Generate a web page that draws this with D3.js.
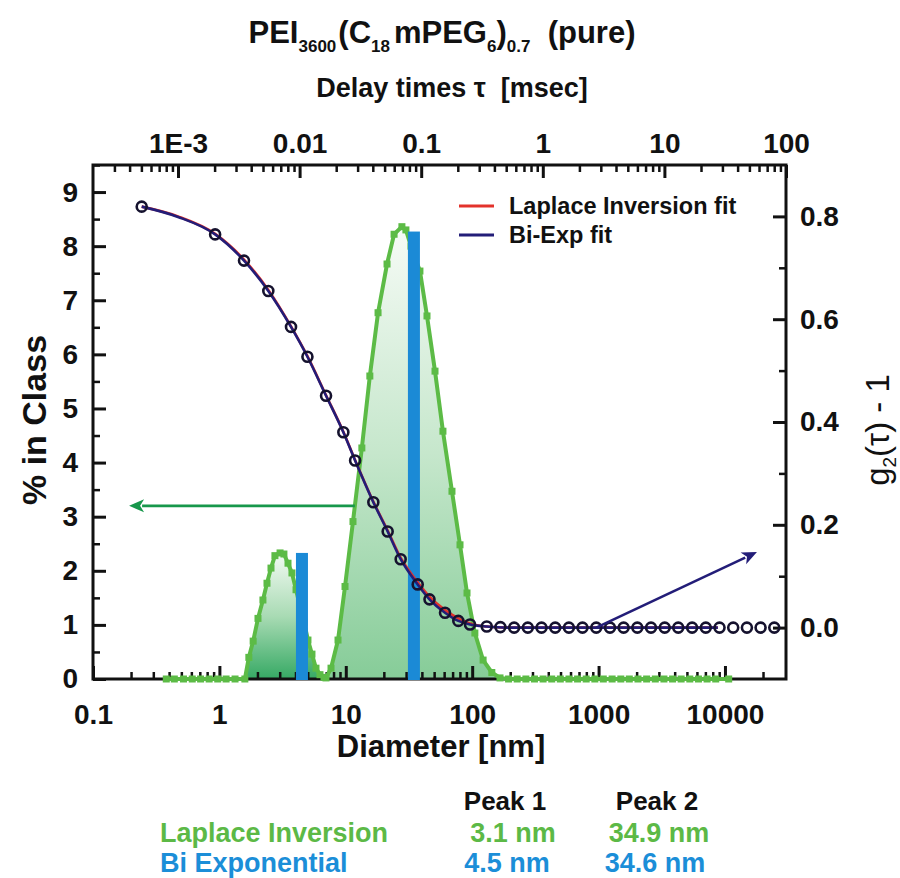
<!DOCTYPE html>
<html><head><meta charset="utf-8">
<script src="https://cdn.jsdelivr.net/npm/d3@7"></script>
<style>
html,body{margin:0;padding:0;background:#fff;}
svg{display:block;}
text{font-family:"Liberation Sans", Arial, Helvetica, sans-serif;}
</style></head><body>
<svg id="chart" width="900" height="878"></svg>
<script>
// ---------------- DATA ----------------
// Laplace inversion size distribution (diameter in nm, % in class)
const diameterNm = [0.38,0.44,0.52,0.61,0.71,0.83,0.97,1.13,1.33,1.59,
  1.71,1.85,2.02,2.21,2.38,2.56,2.75,3.02,3.24,3.49,3.75,4.04,4.34,4.67,5.02,5.40,5.81,6.25,6.72,6.97,
  7.64,8.68,9.86,11.4,13.4,15.5,18.0,21.2,24.1,27.8,29.9,32.8,38.6,43.9,50.8,58.7,69.2,80.1,91.0,105,122,143,166,
  194,227,266,311,364,426,498,583,682,798,934,1090,1280,1500,1750,2050,2400,2810,3290,3850,4500,5270,6170,7220,8450,10700];
const percentInClass = [0,0,0,0,0,0,0,0,0,0,
  0.4,0.7,1.12,1.46,1.77,2.05,2.28,2.33,2.31,2.14,1.96,1.65,1.35,1.05,0.72,0.46,0.2,0.08,0.03,0.02,
  0.2,0.72,1.71,2.91,4.27,5.60,6.77,7.67,8.22,8.36,8.3,8.0,7.54,6.71,5.69,4.58,3.47,2.48,1.59,0.85,0.35,0.12,0.02,
  0,0,0,0,0,0,0,0,0,0,0,0,0,0,0,0,0,0,0,0,0,0,0,0,0,0];
const peakSplitNm = 6.97;

// Bi-exponential peaks
const biExpDiameterNm = [4.5, 34.6];
const biExpPercent = [2.33, 8.27];

// Correlation function data (delay time in ms, g2(tau)-1)
const delayMs = [5.03e-4,2.02e-3,3.49e-3,5.53e-3,8.5e-3,0.0116,0.0165,0.0229,0.0286,0.0404,0.053,0.0678,0.0936,0.117,0.157,0.202,0.252,
  0.346,0.448,0.581,0.753,0.976,1.265,1.64,2.12,2.75,3.57,4.62,5.99,7.76,10.06,13.0,16.9,21.9,28.4,36.8,47.7,61.8,80.1];
const g2minus1 = [0.819,0.765,0.714,0.655,0.585,0.527,0.451,0.380,0.325,0.244,0.187,0.133,0.084,0.055,0.029,0.013,0.006,
  0.002,0.001,0,0,0,0,0,0,0,0,0,0,0,0,0,0,0,0,0,0,0,0];

// Fits
const biExpFitDelayMs = [5.03e-4,1e-3,2.02e-3,3.49e-3,5.53e-3,8.5e-3,0.0116,0.0165,0.0229,0.0286,0.0404,0.053,0.0678,0.0936,0.117,0.157,0.202,0.252,0.346,0.5,1,3,10,27.5];
const biExpFitG2      = [0.819,0.799,0.765,0.714,0.655,0.585,0.527,0.451,0.380,0.325,0.244,0.187,0.133,0.084,0.055,0.029,0.013,0.006,0.002,0,0,0,0,0];
const laplaceFitDelayMs = [5.03e-4,1e-3,2.02e-3,3.49e-3,5.53e-3,8.5e-3,0.0116,0.0165,0.0229,0.0286,0.0404,0.053,0.0678,0.0936,0.117,0.157,0.202,0.252,0.346,0.5,1,3,10,27.5];
const laplaceFitG2      = [0.819,0.800,0.766,0.716,0.657,0.586,0.528,0.452,0.381,0.326,0.245,0.189,0.136,0.088,0.060,0.034,0.018,0.008,0.002,0,0,0,0,0];

// Annotation arrows (data coordinates)
const greenArrowNm = [11.8, 0.193];      const greenArrowPercent = [3.2, 3.2];
const navyArrowMs = [2.75, 57.7];        const navyArrowG2 = [0, 0.147];

// Axes
const bottomTicks = [0.1,1,10,100,1000,10000];
const bottomTickLabels = ["0.1","1","10","100","1000","10000"];
const topTicks = [0.001,0.01,0.1,1,10,100];
const topTickLabels = ["1E-3","0.01","0.1","1","10","100"];
const leftTicks = [0,1,2,3,4,5,6,7,8,9];
const leftTickLabels = ["0","1","2","3","4","5","6","7","8","9"];
const rightTicks = [0,0.2,0.4,0.6,0.8];
const rightTickLabels = ["0.0","0.2","0.4","0.6","0.8"];
const rightMinorTicks = [0.1,0.3,0.5,0.7];

// Legend & table
const legendLabels = ["Laplace Inversion fit","Bi-Exp fit"];
const legendColors = ["#e3322b","#231d78"];
const tableHeader = ["Peak 1","Peak 2"];
const tableRows = ["Laplace Inversion","Bi Exponential"];
const tablePeak1 = ["3.1 nm","4.5 nm"];
const tablePeak2 = ["34.9 nm","34.6 nm"];
const tableColors = ["#5cb946","#1b8ed8"];

// ---------------- DRAW ----------------
const svg = d3.select("#chart");
const P = {left:93,right:786,top:165,bottom:679};
const x = d3.scaleLog().domain([0.1, 30400]).range([P.left, P.right]);
const xTop = d3.scaleLog().domain([2.0e-4, 100]).range([P.left, P.right]);
const yL = d3.scaleLinear().domain([0, 9.5]).range([P.bottom, P.top]);
const yR = d3.scaleLinear().domain([-0.1, 0.9]).range([P.bottom, P.top]);

const GREEN = "#5cbb46", BLUE = "#1b8ad6", NAVY = "#231d78", RED = "#e3322b";

const defs = svg.append("defs");
function grad(id, stops){
  const g = defs.append("linearGradient").attr("id",id).attr("x1",0).attr("y1",0).attr("x2",0).attr("y2",1);
  stops.forEach(s=>g.append("stop").attr("offset",s[0]).attr("stop-color",s[1]));
}
grad("gp1", [[0,"#f3faf3"],[0.5,"#a9dbb4"],[1,"#36a964"]]);
grad("gp2", [[0,"#f6fbf6"],[0.5,"#c6e7cc"],[1,"#86cc98"]]);

const dist = diameterNm.map((d,i)=>({d, v:percentInClass[i]}));
const area = d3.area().x(p=>x(p.d)).y0(yL(0)).y1(p=>yL(p.v));
const peak1 = dist.filter(p=>p.d>=1.59 && p.d<=peakSplitNm);
const peak2 = dist.filter(p=>p.d>=peakSplitNm && p.d<=166);
svg.append("path").datum(peak1).attr("d",area).attr("fill","url(#gp1)");
svg.append("path").datum(peak2).attr("d",area).attr("fill","url(#gp2)");

// axes
function styleAxis(g, major){
  g.select(".domain").remove();
  g.selectAll(".tick line").attr("stroke","#111").attr("stroke-width", major?3:2.5);
  g.selectAll(".tick text").attr("fill","#111").attr("font-size",28).attr("font-weight","bold");
}
function minorLog(lo, hi){
  const out=[];
  for(let e=-5;e<=5;e++) for(let k=2;k<=9;k++){const v=k*Math.pow(10,e); if(v>lo*1.01 && v<hi*0.97) out.push(v);}
  return out;
}
// bottom
svg.append("g").attr("transform",`translate(0,${P.bottom})`)
  .call(d3.axisBottom(x).tickValues(bottomTicks).tickFormat((d,i)=>bottomTickLabels[i]).tickSize(-13).tickPadding(25))
  .call(g=>styleAxis(g,true));
svg.append("g").attr("transform",`translate(0,${P.bottom})`)
  .call(d3.axisBottom(x).tickValues(minorLog(0.1,30400)).tickFormat("").tickSize(-7))
  .call(g=>styleAxis(g,false));
// top
svg.append("g").attr("transform",`translate(0,${P.top})`)
  .call(d3.axisTop(xTop).tickValues(topTicks).tickFormat((d,i)=>topTickLabels[i]).tickSize(-13).tickPadding(12))
  .call(g=>styleAxis(g,true));
svg.append("g").attr("transform",`translate(0,${P.top})`)
  .call(d3.axisTop(xTop).tickValues(minorLog(2e-4,100)).tickFormat("").tickSize(-7))
  .call(g=>styleAxis(g,false));
// left
svg.append("g").attr("transform",`translate(${P.left},0)`)
  .call(d3.axisLeft(yL).tickValues(leftTicks).tickFormat((d,i)=>leftTickLabels[i]).tickSize(-13).tickPadding(15))
  .call(g=>styleAxis(g,true));
svg.append("g").attr("transform",`translate(${P.left},0)`)
  .call(d3.axisLeft(yL).tickValues(leftTicks.map(v=>v+0.5)).tickFormat("").tickSize(-7))
  .call(g=>styleAxis(g,false));
// right
svg.append("g").attr("transform",`translate(${P.right},0)`)
  .call(d3.axisRight(yR).tickValues(rightTicks).tickFormat((d,i)=>rightTickLabels[i]).tickSize(-13).tickPadding(14))
  .call(g=>styleAxis(g,true));
svg.append("g").attr("transform",`translate(${P.right},0)`)
  .call(d3.axisRight(yR).tickValues(rightMinorTicks).tickFormat("").tickSize(-7))
  .call(g=>styleAxis(g,false));

// frame
svg.append("rect").attr("x",P.left).attr("y",P.top).attr("width",P.right-P.left).attr("height",P.bottom-P.top)
  .attr("fill","none").attr("stroke","#111").attr("stroke-width",3);

// green distribution line + squares
const line = d3.line().x(p=>x(p.d)).y(p=>yL(p.v));
svg.append("path").datum(dist).attr("d",line).attr("fill","none").attr("stroke",GREEN).attr("stroke-width",4);
svg.append("g").selectAll("rect").data(dist).join("rect")
  .attr("x",p=>x(p.d)-3.5).attr("y",p=>yL(p.v)-3.5).attr("width",7).attr("height",7).attr("fill",GREEN);

// blue bi-exp bars
svg.append("g").selectAll("rect").data(biExpDiameterNm).join("rect")
  .attr("x",d=>x(d)-6).attr("y",(d,i)=>yL(biExpPercent[i])).attr("width",12)
  .attr("height",(d,i)=>yL(0)-yL(biExpPercent[i])+1).attr("fill",BLUE);

// fits
const fitLine = d3.line().curve(d3.curveMonotoneX).x(p=>xTop(p.t)).y(p=>yR(p.g));
svg.append("path").datum(laplaceFitDelayMs.map((t,i)=>({t,g:laplaceFitG2[i]}))).attr("d",fitLine)
  .attr("fill","none").attr("stroke",RED).attr("stroke-width",2.6);
svg.append("path").datum(biExpFitDelayMs.map((t,i)=>({t,g:biExpFitG2[i]}))).attr("d",fitLine)
  .attr("fill","none").attr("stroke",NAVY).attr("stroke-width",2.6);

// data circles
svg.append("g").selectAll("circle").data(delayMs).join("circle")
  .attr("cx",t=>xTop(t)).attr("cy",(t,i)=>yR(g2minus1[i])).attr("r",5)
  .attr("fill","none").attr("stroke","#15122e").attr("stroke-width",2.6);

// arrows
function arrow(x1,y1,x2,y2,color,w){
  const dx=x2-x1, dy=y2-y1, L=Math.hypot(dx,dy), ux=dx/L, uy=dy/L;
  const hl=15, hw=6.5;
  const bx=x2-ux*hl, by=y2-uy*hl;
  svg.append("line").attr("x1",x1).attr("y1",y1).attr("x2",bx+ux*2).attr("y2",by+uy*2)
    .attr("stroke",color).attr("stroke-width",w);
  svg.append("path").attr("d",`M${x2},${y2}L${bx-uy*hw},${by+ux*hw}L${bx+ux*4},${by+uy*4}L${bx+uy*hw},${by-ux*hw}Z`).attr("fill",color);
}
arrow(x(greenArrowNm[0]),yL(greenArrowPercent[0]),x(greenArrowNm[1]),yL(greenArrowPercent[1]),"#17974b",2.8);
arrow(xTop(navyArrowMs[0]),yR(navyArrowG2[0]),xTop(navyArrowMs[1]),yR(navyArrowG2[1]),NAVY,2.6);

// legend
legendLabels.forEach((lab,i)=>{
  const yy = 206 + i*29;
  svg.append("line").attr("x1",459).attr("x2",494).attr("y1",yy).attr("y2",yy).attr("stroke",legendColors[i]).attr("stroke-width",3);
  svg.append("text").attr("x",509).attr("y",yy+8).attr("font-size",23.5).attr("font-weight","bold").attr("fill","#111").text(lab);
});

// titles
const t = svg.append("text").attr("x",442).attr("y",43).attr("text-anchor","middle").attr("font-weight","bold").attr("font-size",31).attr("fill","#111");
const parts = [["PEI",0],["3600",1],["(C",0],["18",1],["mPEG",0],["6",1],[")",0],["0.7",1],["  (pure)",0]];
let sub=false;
parts.forEach(([s,isSub])=>{
  const ts = t.append("tspan").text(s).attr("xml:space","preserve");
  if(isSub && !sub){ts.attr("dy",9).attr("font-size",17); sub=true;}
  else if(isSub){ts.attr("font-size",17);}
  else if(!isSub && sub){ts.attr("dy",-9); sub=false;}
  if(s==="mPEG" || s==="(C") ts.attr("dx", s==="mPEG"?4:2);
});
t.style("white-space","pre");

svg.append("text").attr("x",452).attr("y",97).attr("text-anchor","middle").attr("font-weight","bold").attr("font-size",27)
  .attr("fill","#111").style("white-space","pre").text("Delay times \u03C4  [msec]");

svg.append("text").attr("x",441).attr("y",757).attr("text-anchor","middle").attr("font-weight","bold").attr("font-size",31)
  .attr("fill","#111").text("Diameter [nm]");

svg.append("text").attr("transform","translate(46,420) rotate(-90)").attr("text-anchor","middle").attr("font-weight","bold")
  .attr("font-size",34).attr("fill","#111").text("% in Class");

const gr = svg.append("text").attr("transform","translate(889,430) rotate(-90)").attr("text-anchor","middle")
  .attr("font-size",33).attr("fill","#111").style("white-space","pre");
gr.append("tspan").text("g");
gr.append("tspan").text("2").attr("font-size",19).attr("dy",7);
gr.append("tspan").text("(\u03C4) - 1").attr("dy",-7);

// table
const tblFont = 27;
tableHeader.forEach((h,i)=>{
  svg.append("text").attr("x",[505,657][i]).attr("y",810).attr("text-anchor","middle").attr("font-weight","bold")
    .attr("font-size",26).attr("fill","#111").text(h);
});
tableRows.forEach((r,i)=>{
  const yy = 842 + i*30;
  svg.append("text").attr("x",160).attr("y",yy).attr("font-weight","bold").attr("font-size",tblFont).attr("fill",tableColors[i]).text(r);
  svg.append("text").attr("x",[513,507][i]).attr("y",yy).attr("text-anchor","middle").attr("font-weight","bold").attr("font-size",tblFont).attr("fill",tableColors[i]).text(tablePeak1[i]);
  svg.append("text").attr("x",[659,655][i]).attr("y",yy).attr("text-anchor","middle").attr("font-weight","bold").attr("font-size",tblFont).attr("fill",tableColors[i]).text(tablePeak2[i]);
});
</script>
</body></html>
